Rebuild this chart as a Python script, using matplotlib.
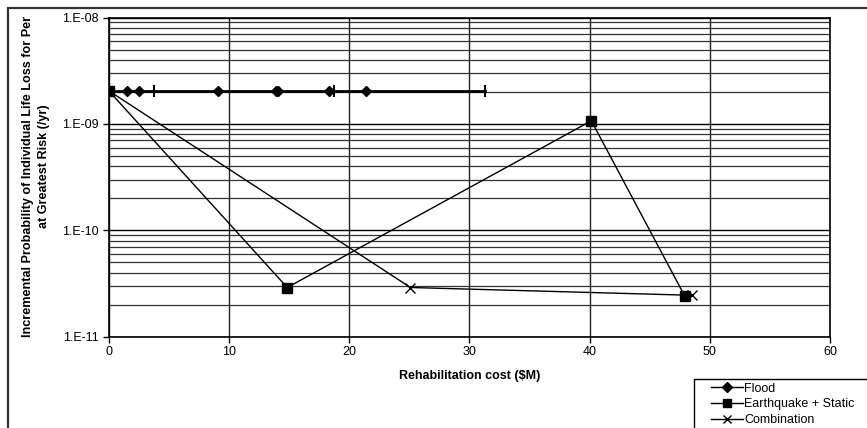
import matplotlib
matplotlib.use("Agg")
import matplotlib.pyplot as plt
from matplotlib.patches import Rectangle
from matplotlib.ticker import LogLocator, FixedLocator, NullFormatter
import numpy as np

plt.rcParams['font.family'] = ['Liberation Sans', 'DejaVu Sans']

# data
flood_x = [0, 1.5, 2.5, 9.1, 13.9, 14.1, 18.3, 21.4]
flood_y = [2.05e-9] * len(flood_x)
flood_bar_x = [3.8, 18.7, 31.3]
flood_bar_y = [2.05e-9] * len(flood_bar_x)
flood_line_x = [0, 31.3]
flood_line_y = [2.05e-9, 2.05e-9]

quake_x = [0, 14.85, 40.15, 47.9]
quake_y = [2.05e-9, 2.9e-11, 1.07e-9, 2.43e-11]

combo_x = [0, 25.1, 48.5]
combo_y = [2.05e-9, 2.9e-11, 2.45e-11]

yticks = [1e-11, 1e-10, 1e-9, 1e-8]
ytick_labels = ['1.E-11', '1.E-10', '1.E-09', '1.E-08']
xticks = [0, 10, 20, 30, 40, 50, 60]

W, H = 867, 428
fig = plt.figure(figsize=(W / 100, H / 100), dpi=100)
ax = fig.add_axes([108.7 / W, 1 - 336.7 / H, (830 - 108.7) / W, (336.7 - 17.5) / H])

ax.set_yscale('log')
ax.set_xlim(0, 60)
ax.set_ylim(1e-11, 1e-8)

# gridlines at every log step, major lines at the decades
ax.yaxis.set_minor_locator(LogLocator(base=10, subs=np.arange(2, 10)))
ax.yaxis.set_minor_formatter(NullFormatter())
ax.grid(True, which='minor', axis='y', color='#333333', lw=0.9)
ax.grid(True, which='major', axis='y', color='black', lw=1.0)
ax.grid(True, which='major', axis='x', color='#222222', lw=1.0)
ax.set_axisbelow(True)
ax.tick_params(axis='y', which='minor', length=0)

ax.xaxis.set_major_locator(FixedLocator(xticks))
ax.set_yticks(yticks)
ax.set_yticklabels(ytick_labels)
ax.tick_params(axis='both', which='major', direction='out', length=4, width=1,
               labelsize=9, colors='black', pad=3)

for s in ax.spines.values():
    s.set_color('black')
    s.set_linewidth(1.2)

ax.plot(flood_line_x, flood_line_y, color='black', lw=2, zorder=3)
ax.plot(flood_x, flood_y, ls='none', marker='D', ms=5, color='black', zorder=4)
ax.plot(flood_bar_x, flood_bar_y, ls='none', marker='|', ms=9, mew=1.5, color='black', zorder=4)
ax.plot(quake_x, quake_y, color='black', lw=1, marker='s', ms=7, zorder=5)
ax.plot(combo_x, combo_y, color='black', lw=1, marker='x', ms=7, mew=1, zorder=4)

ax.set_xlabel('Rehabilitation cost ($M)', fontsize=9, fontweight='bold', labelpad=8)

# y label, clipped at the chart's top like the original
fig.text(28 / W, 1 - 337 / H, 'Incremental Probability of Individual Life Loss for Per',
         rotation=90, ha='center', va='bottom', fontsize=9.1, fontweight='bold')
fig.text(44 / W, 1 - 166 / H, 'at Greatest Risk (/yr)',
         rotation=90, ha='center', va='center', fontsize=9.1, fontweight='bold')

# chart border and legend box, both run off the image edge
fig.patches.append(Rectangle((8 / W, -0.1), 1.2, 1 - 8 / H + 0.1, transform=fig.transFigure,
                             fill=False, ec='#333333', lw=1.6))
fig.patches.append(Rectangle((694 / W, -0.1), 1.2, 1 - 379 / H + 0.1, transform=fig.transFigure,
                             fill=False, ec='black', lw=1))

h1, = plt.plot([], [], color='black', lw=1, marker='D', ms=5)
h2, = plt.plot([], [], color='black', lw=1, marker='s', ms=6)
h3, = plt.plot([], [], color='black', lw=1, marker='x', ms=6)
fig.legend([h1, h2, h3], ['Flood', 'Earthquake + Static', 'Combination'],
           loc='upper left', bbox_to_anchor=(708 / W, 1 - 380 / H),
           frameon=False, fontsize=9, handlelength=2.6, handletextpad=0.1,
           labelspacing=0.3, borderpad=0.2, borderaxespad=0)

fig.savefig('out.png', dpi=100)
